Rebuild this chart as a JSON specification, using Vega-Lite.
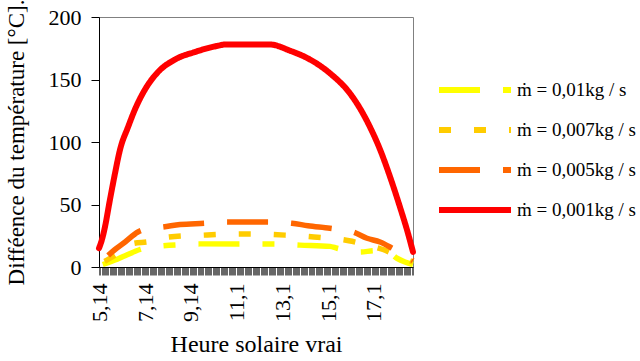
{
  "$schema": "https://vega.github.io/schema/vega-lite/v6.json",
  "width": 314,
  "height": 250,
  "autosize": {"type": "none"},
  "padding": {"left": 99, "top": 17, "right": 227, "bottom": 94},
  "background": "white",
  "config": {
    "view": {"stroke": "#808080", "strokeWidth": 1},
    "font": "Liberation Serif",
    "style": {"guide-label": {"font": "Liberation Serif"}, "guide-title": {"font": "Liberation Serif"}},
    "axis": {
      "labelFont": "Liberation Serif",
      "titleFont": "Liberation Serif",
      "labelColor": "black",
      "titleColor": "black",
      "domainColor": "black",
      "tickColor": "black",
      "grid": false,
      "titleFontWeight": "normal",
      "labelFontSize": 22,
      "titleFontSize": 22
    },
    "legend": {
      "labelFont": "Liberation Serif",
      "labelFontSize": 19,
      "labelColor": "black"
    }
  },
  "data": {
    "values": [
      {"s": "a", "h": 5.14, "v": 1}, {"s": "a", "h": 5.62, "v": 4}, {"s": "a", "h": 6.28, "v": 9}, {"s": "a", "h": 6.93, "v": 14}, {"s": "a", "h": 7.37, "v": 16}, {"s": "a", "h": 7.94, "v": 17}, {"s": "a", "h": 8.9, "v": 18}, {"s": "a", "h": 9.55, "v": 18.5}, {"s": "a", "h": 11.3, "v": 18.5}, {"s": "a", "h": 12.79, "v": 18.5}, {"s": "a", "h": 13.92, "v": 17.5}, {"s": "a", "h": 15.23, "v": 16.5}, {"s": "a", "h": 15.54, "v": 15}, {"s": "a", "h": 16.54, "v": 12}, {"s": "a", "h": 17.2, "v": 13}, {"s": "a", "h": 17.77, "v": 12}, {"s": "a", "h": 18.16, "v": 7}, {"s": "a", "h": 18.51, "v": 4}, {"s": "a", "h": 18.86, "v": 2},
      {"s": "b", "h": 5.14, "v": 2}, {"s": "b", "h": 5.62, "v": 7}, {"s": "b", "h": 6.06, "v": 12}, {"s": "b", "h": 6.67, "v": 19}, {"s": "b", "h": 7.24, "v": 20}, {"s": "b", "h": 8.2, "v": 24}, {"s": "b", "h": 9.73, "v": 25.5}, {"s": "b", "h": 11.52, "v": 26.5}, {"s": "b", "h": 13.27, "v": 25.5}, {"s": "b", "h": 14.53, "v": 24}, {"s": "b", "h": 16.06, "v": 21}, {"s": "b", "h": 16.98, "v": 17}, {"s": "b", "h": 17.55, "v": 14}, {"s": "b", "h": 18.29, "v": 8}, {"s": "b", "h": 18.86, "v": 4},
      {"s": "c", "h": 5.14, "v": 3}, {"s": "c", "h": 5.4, "v": 7}, {"s": "c", "h": 5.84, "v": 14}, {"s": "c", "h": 6.28, "v": 20}, {"s": "c", "h": 6.84, "v": 28}, {"s": "c", "h": 7.37, "v": 31}, {"s": "c", "h": 7.94, "v": 32}, {"s": "c", "h": 8.68, "v": 34}, {"s": "c", "h": 9.77, "v": 35}, {"s": "c", "h": 10.21, "v": 35.5}, {"s": "c", "h": 10.73, "v": 36}, {"s": "c", "h": 12.48, "v": 36}, {"s": "c", "h": 13.57, "v": 35}, {"s": "c", "h": 14.27, "v": 33}, {"s": "c", "h": 15.23, "v": 31}, {"s": "c", "h": 16.24, "v": 28}, {"s": "c", "h": 16.85, "v": 23}, {"s": "c", "h": 17.42, "v": 20}, {"s": "c", "h": 17.95, "v": 15}, {"s": "c", "h": 18.51, "v": 9}, {"s": "c", "h": 18.86, "v": 5},
      {"s": "d", "h": 5.14, "v": 15}, {"s": "d", "h": 5.27, "v": 22}, {"s": "d", "h": 5.4, "v": 32}, {"s": "d", "h": 5.62, "v": 54}, {"s": "d", "h": 5.84, "v": 75}, {"s": "d", "h": 6.06, "v": 94}, {"s": "d", "h": 6.41, "v": 112}, {"s": "d", "h": 6.71, "v": 126}, {"s": "d", "h": 7.15, "v": 142}, {"s": "d", "h": 7.72, "v": 156}, {"s": "d", "h": 8.46, "v": 166}, {"s": "d", "h": 9.33, "v": 172}, {"s": "d", "h": 10.34, "v": 177}, {"s": "d", "h": 10.65, "v": 178}, {"s": "d", "h": 12.0, "v": 178}, {"s": "d", "h": 12.61, "v": 178}, {"s": "d", "h": 13.49, "v": 173}, {"s": "d", "h": 14.36, "v": 166}, {"s": "d", "h": 15.23, "v": 155}, {"s": "d", "h": 16.1, "v": 139}, {"s": "d", "h": 16.54, "v": 127}, {"s": "d", "h": 16.98, "v": 112}, {"s": "d", "h": 17.42, "v": 94}, {"s": "d", "h": 17.86, "v": 72}, {"s": "d", "h": 18.29, "v": 48}, {"s": "d", "h": 18.64, "v": 27}, {"s": "d", "h": 18.86, "v": 12}
    ]
  },
  "encoding": {
    "x": {
      "field": "h", "type": "quantitative",
      "scale": {"domain": [5.14, 18.86], "nice": false, "zero": false},
      "axis": {
        "tickCount": 274, "tickSize": 8, "tickWidth": 0.6, "labelAngle": 270, "labelPadding": 8,
        "labelFont": "Liberation Serif", "labelFontSize": 22,
        "labelOverlap": false, "labelFlush": false, "labelBound": false,
        "labelExpr": "indexof([515,715,915,1115,1315,1515,1715], round(datum.value*100)) >= 0 ? ['5,14','7,14','9,14','11,1','13,1','15,1','17,1'][indexof([515,715,915,1115,1315,1515,1715], round(datum.value*100))] : ''",
        "title": "Heure solaire vrai", "titleFont": "Liberation Serif", "titleFontSize": 24, "titlePadding": 11
      }
    },
    "y": {
      "field": "v", "type": "quantitative",
      "scale": {"domain": [0, 200], "nice": false},
      "axis": {
        "values": [0, 50, 100, 150, 200], "tickSize": 8, "labelPadding": 10,
        "labelFont": "Liberation Serif", "labelFontSize": 22,
        "title": "Difféence du température [°C].", "titleFont": "Liberation Serif", "titleFontSize": 23, "titlePadding": 20
      }
    },
    "color": {
      "field": "s", "type": "nominal",
      "scale": {"domain": ["a", "b", "c", "d"], "range": ["#FFFF00", "#FFCC00", "#FF6600", "#FF0000"]},
      "legend": {
        "title": null, "orient": "none", "legendX": 337, "legendY": 53,
        "symbolType": "stroke", "symbolSize": 5184, "symbolStrokeWidth": 6,
        "labelOffset": 3, "rowPadding": 0, "clipHeight": 40,
        "labelFont": "Liberation Serif", "labelFontSize": 19,
        "labelExpr": "{'a':'ṁ = 0,01kg / s','b':'ṁ = 0,007kg / s','c':'ṁ = 0,005kg / s','d':'ṁ = 0,001kg / s'}[datum.value]"
      }
    },
    "strokeDash": {
      "field": "s", "type": "nominal",
      "scale": {"domain": ["a", "b", "c", "d"], "range": [[41, 23, 12, 23], [12, 23], [41, 23], [1, 0]]},
      "legend": {
        "title": null, "orient": "none", "legendX": 337, "legendY": 53,
        "symbolType": "stroke", "symbolSize": 5184, "symbolStrokeWidth": 6,
        "labelOffset": 3, "rowPadding": 0, "clipHeight": 40,
        "labelFont": "Liberation Serif", "labelFontSize": 19,
        "labelExpr": "{'a':'ṁ = 0,01kg / s','b':'ṁ = 0,007kg / s','c':'ṁ = 0,005kg / s','d':'ṁ = 0,001kg / s'}[datum.value]"
      }
    }
  },
  "layer": [
    {"transform": [{"filter": "datum.s === 'a'"}], "mark": {"type": "line", "strokeWidth": 5.5, "interpolate": "monotone", "strokeCap": "butt", "strokeDashOffset": 95}},
    {"transform": [{"filter": "datum.s === 'b'"}], "mark": {"type": "line", "strokeWidth": 5.5, "interpolate": "monotone", "strokeCap": "butt", "strokeDashOffset": 28.5}},
    {"transform": [{"filter": "datum.s === 'c'"}], "mark": {"type": "line", "strokeWidth": 5.5, "interpolate": "monotone", "strokeCap": "butt", "strokeDashOffset": 52}},
    {"transform": [{"filter": "datum.s === 'd'"}], "mark": {"type": "line", "strokeWidth": 6, "interpolate": "monotone", "strokeCap": "round"}}
  ]
}
